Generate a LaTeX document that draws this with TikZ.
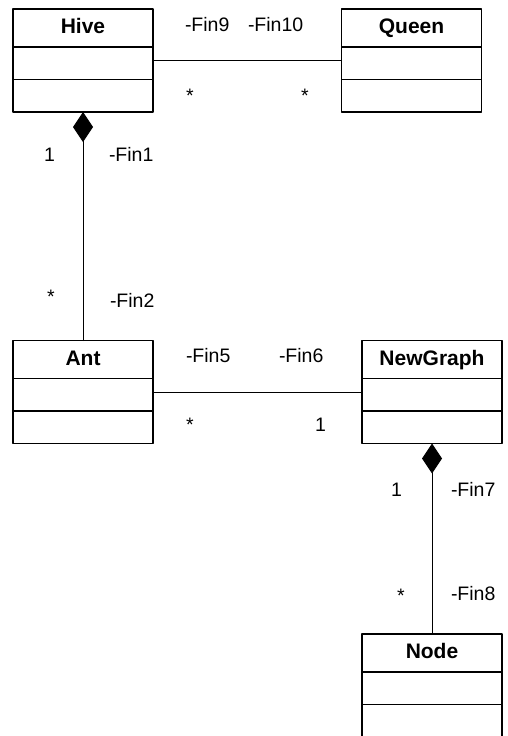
\documentclass[tikz,border=0pt]{standalone}
\usepackage{fontspec}
\setmainfont{Liberation Sans}
\usetikzlibrary{positioning,arrows.meta}

\begin{document}
\begin{tikzpicture}[line cap=round,line join=round,x=1pt,y=-1pt,
		classhead/.style={draw,line width=1.5pt,minimum width=140pt,minimum height=38pt,outer sep=0pt,inner sep=0pt,text height=15pt,text depth=4pt,font=\fontsize{21}{25}\selectfont\bfseries},
		classrow/.style={draw,line width=1.5pt,minimum width=140pt,minimum height=32.5pt,outer sep=0pt,inner sep=0pt},
		lbl/.style={anchor=base west,inner sep=0pt,outer sep=0pt},
		link/.style={line width=1pt},
		comp/.style={line width=1pt,{Diamond[length=30pt,width=20pt]}-}]
		\useasboundingbox (0,0) rectangle (507,736);
		\fontsize{19.5}{23}\selectfont
		% classes
		\node[classhead] (hive) at (83,28) {Hive};
		\node[classrow,below=0pt of hive] (hive-attr) {};
		\node[classrow,below=0pt of hive-attr] (hive-ops) {};
		\node[classhead] (queen) at (411.5,28) {Queen};
		\node[classrow,below=0pt of queen] (queen-attr) {};
		\node[classrow,below=0pt of queen-attr] (queen-ops) {};
		\node[classhead] (ant) at (83,359.5) {Ant};
		\node[classrow,below=0pt of ant] (ant-attr) {};
		\node[classrow,below=0pt of ant-attr] (ant-ops) {};
		\node[classhead] (graph) at (432,359.5) {NewGraph};
		\node[classrow,below=0pt of graph] (graph-attr) {};
		\node[classrow,below=0pt of graph-attr] (graph-ops) {};
		\node[classhead] (node) at (432,653) {Node};
		\node[classrow,below=0pt of node] (node-attr) {};
		\node[classrow,below=0pt of node-attr] (node-ops) {};
		% associations
		\draw[link] ([yshift=3pt]hive-attr.east) -- ([yshift=3pt]queen-attr.west);
		\draw[link] ([yshift=2.5pt]ant-attr.east) -- ([yshift=2.5pt]graph-attr.west);
		\draw[comp] (hive-ops.south) -- (ant.north);
		\draw[comp] (graph-ops.south) -- (node.north);
		% roles and multiplicities
		\node[lbl] (fin9) at (185,31) {-Fin9};
		\node[lbl] (fin10) at (248,31) {-Fin10};
		\node[lbl] (m-hive) at (186,102) {*};
		\node[lbl] (m-queen) at (301,102) {*};
		\node[lbl] (m-hive1) at (44,161) {1};
		\node[lbl] (fin1) at (109,161) {-Fin1};
		\node[lbl] (m-ant) at (47,303) {*};
		\node[lbl] (fin2) at (110,307) {-Fin2};
		\node[lbl] (fin5) at (186,362) {-Fin5};
		\node[lbl] (fin6) at (279,362) {-Fin6};
		\node[lbl] (m-ant2) at (186,431) {*};
		\node[lbl] (m-graph) at (315,431) {1};
		\node[lbl] (m-graph1) at (391,496) {1};
		\node[lbl] (fin7) at (451,496) {-Fin7};
		\node[lbl] (m-node) at (397,602) {*};
		\node[lbl] (fin8) at (451,600) {-Fin8};
	\end{tikzpicture}
\end{document}
